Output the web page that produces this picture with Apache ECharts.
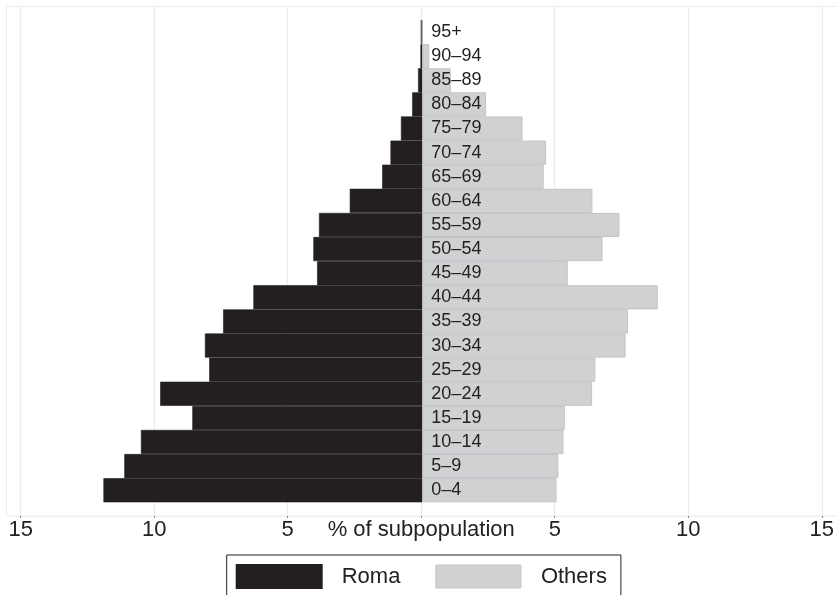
<!DOCTYPE html>
<html>
<head>
<meta charset="utf-8">
<script src="https://cdn.jsdelivr.net/npm/echarts@6/dist/echarts.min.js"></script>
<style>html,body{margin:0;padding:0;background:#fff;}#c{width:837px;height:595px;}</style>
</head>
<body>
<div id="c"></div>
<script>
const ageGroups = ['0–4','5–9','10–14','15–19','20–24','25–29','30–34','35–39','40–44','45–49','50–54','55–59','60–64','65–69','70–74','75–79','80–84','85–89','90–94','95+'];
const roma = [11.91, 11.13, 10.51, 8.59, 9.79, 7.96, 8.12, 7.44, 6.31, 3.93, 4.07, 3.86, 2.71, 1.50, 1.19, 0.80, 0.38, 0.16, 0.07, 0.06];
const others = [5.01, 5.08, 5.27, 5.32, 6.34, 6.46, 7.59, 7.68, 8.79, 5.43, 6.73, 7.36, 6.35, 4.53, 4.62, 3.74, 2.38, 1.06, 0.26, 0.0];
const xTicks = [-15, -10, -5, 0, 5, 10, 15];
const xAxisTitle = '% of subpopulation';
const seriesNames = ['Roma', 'Others'];

const chart = echarts.init(document.getElementById('c'), null, {renderer: 'canvas'});
const font = 'Liberation Sans, Arial, Helvetica, sans-serif';
const gridLeft = 20.7, gridRight = 13, W = 837;
const zeroOffset = -((W - gridLeft - gridRight) / 2);
const option = {
  animation: false,
  backgroundColor: '#ffffff',
  graphic: [{
    type: 'rect', silent: true, z: -10,
    shape: {x: 6.5, y: 6.5, width: 840, height: 509.5},
    style: {fill: 'none', stroke: '#ececec', lineWidth: 1}
  }],
  grid: [
    {left: gridLeft, right: gridRight, top: 7, bottom: 79},
    {left: gridLeft, right: gridRight, top: 20, bottom: 92.7}
  ],
  xAxis: [
    {
      gridIndex: 0, type: 'value', min: xTicks[0], max: xTicks[xTicks.length - 1], interval: 5,
      axisLine: {show: true, lineStyle: {color: '#ececec', width: 1}},
      axisTick: {show: true, length: 2, lineStyle: {color: '#888'}},
      splitLine: {show: true, lineStyle: {color: '#ececec', width: 1.2}},
      axisLabel: {
        margin: 3, color: '#222', fontSize: 22, fontFamily: font,
        formatter: v => v === 0 ? xAxisTitle : String(Math.abs(v))
      }
    },
    {
      gridIndex: 1, type: 'value', min: xTicks[0], max: xTicks[xTicks.length - 1], interval: 5,
      show: false
    }
  ],
  yAxis: [
    {gridIndex: 0, type: 'value', show: false, splitLine: {show: false}},
    {
      gridIndex: 1, type: 'category', data: ageGroups,
      position: 'left', offset: zeroOffset,
      axisLine: {show: false, onZero: false},
      axisTick: {show: false},
      splitLine: {show: false},
      axisLabel: {inside: true, margin: 9, color: '#222', fontSize: 18, fontFamily: font},
      z: 10
    }
  ],
  legend: {
    data: [
      {name: 'Roma', icon: 'rect'},
      {name: 'Others', icon: 'rect', itemStyle: {borderColor: '#c4c5c7', borderWidth: 1}}
    ],
    left: 226.7, top: 555,
    orient: 'horizontal',
    borderColor: '#222', borderWidth: 1, borderRadius: 0,
    padding: [9, 14, 30, 9],
    itemWidth: 85, itemHeight: 23, itemGap: 35,
    textStyle: {fontSize: 22, color: '#222', fontFamily: font, padding: [0, 0, 0, 15]}
  },
  series: [
    {
      name: seriesNames[0], type: 'bar', xAxisIndex: 1, yAxisIndex: 1, stack: 'pyr',
      data: roma.map(v => -v),
      barCategoryGap: '0%',
      itemStyle: {color: '#231f20', borderColor: '#231f20', borderWidth: 0.6}
    },
    {
      name: seriesNames[1], type: 'bar', xAxisIndex: 1, yAxisIndex: 1, stack: 'pyr',
      data: others,
      barCategoryGap: '0%',
      itemStyle: {color: '#d0d1d3', borderColor: '#c2c3c5', borderWidth: 1}
    }
  ]
};
chart.setOption(option);
</script>
</body>
</html>
